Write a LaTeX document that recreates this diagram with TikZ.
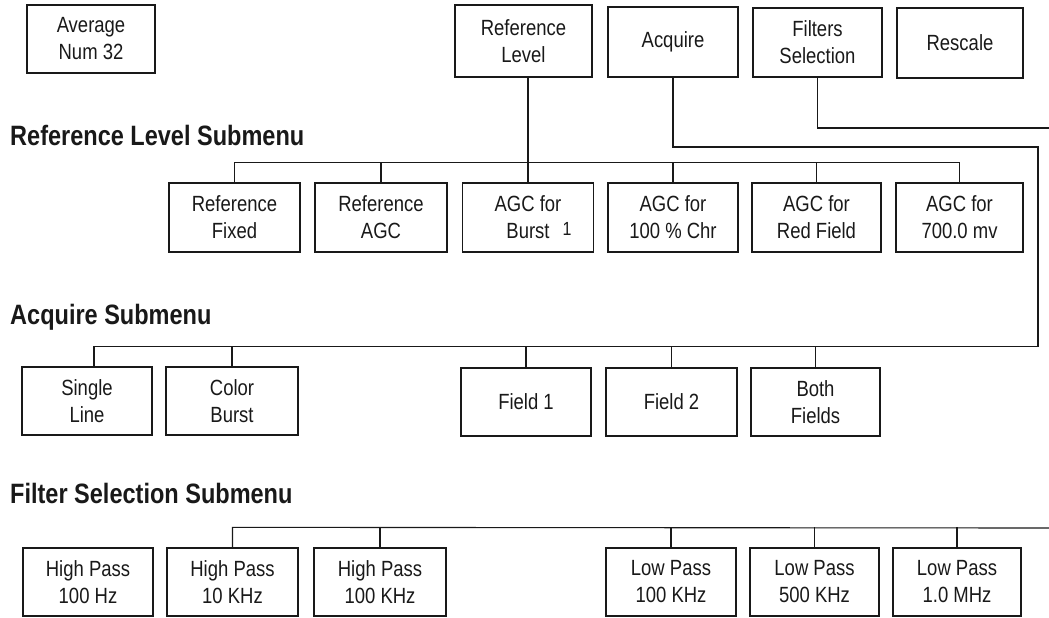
\documentclass[tikz,border=0pt]{standalone}
\usepackage{fontspec}
\setmainfont{Liberation Sans}[FakeStretch=0.84]
\usetikzlibrary{calc}
\begin{document}
\begin{tikzpicture}[x=1pt,y=-1pt,
  box/.style={draw=black!90, line width=1.3pt, minimum width=130pt, minimum height=69pt,
    inner sep=0pt, align=center, font=\fontsize{22}{27}\selectfont, text=black!90},
  head/.style={anchor=base west, inner sep=0pt, font=\bfseries\fontsize{28}{32}\selectfont, text=black!90},
  wire/.style={draw=black!90, line width=1.1pt}]
\useasboundingbox (0,0) rectangle (1049,618);

% top row
\node[box, minimum width=128pt, minimum height=68pt] (avg) at (91,39) {Average\\Num 32};
\node[box, minimum width=137pt, minimum height=72pt] (ref) at (523.5,41) {Reference\\Level};
\node[box, minimum height=70pt] (acq) at (673,42) {Acquire};
\node[box, minimum width=129pt] (fil) at (817.5,42.5) {Filters\\Selection};
\node[box, minimum width=126pt, minimum height=70pt] (res) at (960,43) {Rescale};

% headings
\node[head] (h1) at (10,145) {Reference Level Submenu};
\node[head] (h2) at (10,324) {Acquire Submenu};
\node[head] (h3) at (10,503) {Filter Selection Submenu};

% reference level submenu
\node[box, minimum width=131pt] (rfix) at (234.5,217.5) {Reference\\Fixed};
\node[box, minimum width=132pt] (ragc) at (381,217.5) {Reference\\AGC};
\node[box, minimum width=131pt] (rbur) at (528,217.5) {AGC for\\Burst\rlap{\hspace{13pt}\raisebox{3pt}{\fontsize{19}{19}\selectfont 1}}};
\node[box] (r100) at (673,217.5) {AGC for\\100 \% Chr};
\node[box, minimum width=129pt] (rred) at (816.5,217.5) {AGC for\\Red Field};
\node[box, minimum width=127pt] (r700) at (959.5,217.5) {AGC for\\700.0 mv};

% acquire submenu
\node[box, minimum height=68pt] (single) at (87,401) {Single\\Line};
\node[box, minimum width=132pt, minimum height=68pt] (color) at (232,401) {Color\\Burst};
\node[box, minimum height=68pt] (f1) at (526,402) {Field 1};
\node[box, minimum width=131pt, minimum height=68pt] (f2) at (671.5,402) {Field 2};
\node[box, minimum width=129pt, minimum height=68pt] (both) at (815.5,402) {Both\\Fields};

% filter selection submenu
\node[box, minimum height=68pt] (hp1) at (88,582) {High Pass\\100 Hz};
\node[box, minimum width=131pt, minimum height=68pt] (hp2) at (232.5,582) {High Pass\\10 KHz};
\node[box, minimum width=132pt, minimum height=68pt] (hp3) at (380,582) {High Pass\\100 KHz};
\node[box, minimum height=68pt] (lp1) at (671,582) {Low Pass\\100 KHz};
\node[box, minimum width=129pt, minimum height=68pt] (lp2) at (814.5,582) {Low Pass\\500 KHz};
\node[box, minimum width=128pt, minimum height=68pt] (lp3) at (957,582) {Low Pass\\1.0 MHz};

% reference level connectors
\draw[wire] (ref.south -| rbur.north) -- (rbur.north);
\draw[wire] (rfix.north) -- ++(0,-20) -| (r700.north);
\foreach \n in {ragc,r100,rred} \draw[wire] (\n.north) -- ++(0,-20);

% acquire connectors
\coordinate (acqturn) at (1038,147);
\draw[wire] (acq.south) |- (acqturn) |- ($(single.north)+(7,-20)$) -- ($(single.north)+(7,0)$);
\foreach \n in {color,f1,f2,both} \draw[wire] (\n.north) -- ++(0,-20);

% filter connectors
\coordinate (filout) at (1049,128);
\draw[wire] (fil.south) |- (filout);
\coordinate (filbus) at (1049,528);
\draw[wire] (hp2.north) -- ++(0,-20) -- (filbus);
\foreach \n in {hp3,lp1,lp2,lp3} \draw[wire] (\n.north) -- ++(0,-20);
\end{tikzpicture}
\end{document}
